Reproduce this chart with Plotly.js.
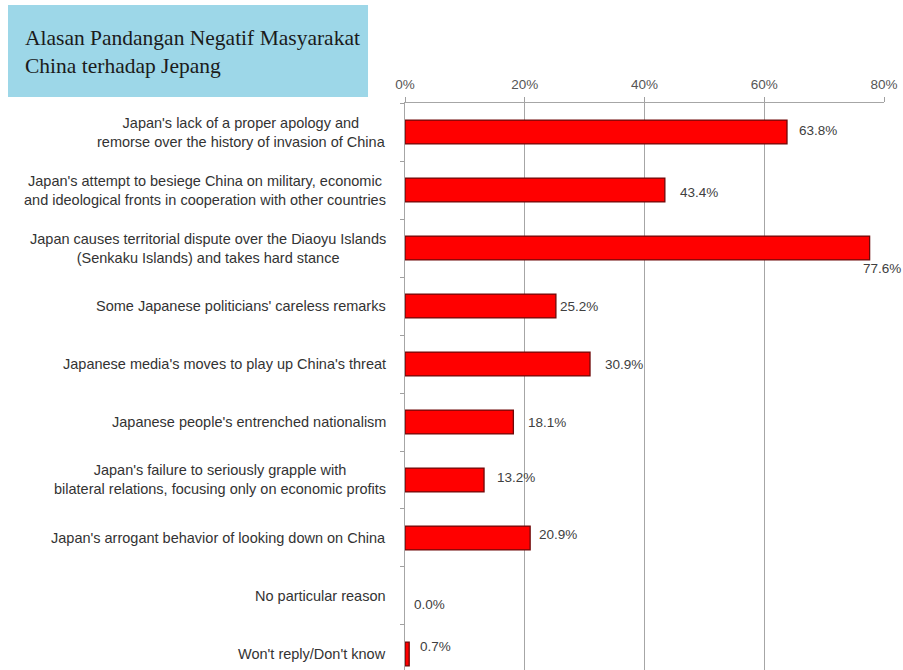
<!DOCTYPE html>
<html>
<head>
<meta charset="utf-8">
<script src="https://cdn.plot.ly/plotly-3.0.1.min.js"></script>
<style>
  html, body { margin: 0; padding: 0; background: #ffffff; }
  #chart { width: 903px; height: 670px; }
</style>
</head>
<body>
<div id="chart"></div>
<script>
// Reasons for negative views, listed top to bottom
const categories = [
  "Japan's lack of a proper apology and<br>remorse over the history of invasion of China",
  "Japan's attempt to besiege China on military, economic<br>and ideological fronts in cooperation with other countries",
  "Japan causes territorial dispute over the Diaoyu Islands<br>(Senkaku Islands) and takes hard stance",
  "Some Japanese politicians' careless remarks",
  "Japanese media's moves to play up China's threat",
  "Japanese people's entrenched nationalism",
  "Japan's failure to seriously grapple with<br>bilateral relations, focusing only on economic profits",
  "Japan's arrogant behavior of looking down on China",
  "No particular reason",
  "Won't reply/Don't know"
];

// Share of respondents (%)
const values = [63.8, 43.4, 77.6, 25.2, 30.9, 18.1, 13.2, 20.9, 0.0, 0.7];

// Axis ticks
const tickValues = [0, 20, 40, 60, 80];
const tickLabels = ["0%", "20%", "40%", "60%", "80%"];

const chartTitle = "Alasan Pandangan Negatif Masyarakat<br>China terhadap Jepang";

// Pixel nudges for the value labels (x right, y up)
const labelDx = [10, 13, -9, 2, 13, 13, 11, 7, 7, 9];
const labelDy = [2, -2, -20, 0, 0, 0, 2, 3, -9, 7];

const trace = {
  type: "bar",
  orientation: "h",
  x: values,
  y: categories,
  width: 0.41,
  marker: {
    color: "#ff0000",
    // an empty bar gets no outline
    line: { color: "#6e0808", width: values.map(v => (v > 0 ? 1.3 : 0)) }
  },
  hoverinfo: "skip"
};

const labelFont = { family: "Liberation Sans, Arial, sans-serif", size: 14.5, color: "#333333" };
const valueFont = { family: "Liberation Sans, Arial, sans-serif", size: 13.5, color: "#404040" };

const annotations = [];

// Category labels, centred line by line, right edge next to the axis
categories.forEach((c) => {
  annotations.push({
    xref: "paper", yref: "y",
    x: -0.0355, y: c,
    xanchor: "right", yanchor: "middle",
    align: "center",
    text: c,
    showarrow: false,
    font: labelFont
  });
});

// Value labels
values.forEach((v, i) => {
  annotations.push({
    xref: "x", yref: "y",
    x: v, y: categories[i],
    xanchor: "left", yanchor: "middle",
    xshift: labelDx[i], yshift: labelDy[i],
    text: v.toFixed(1) + "%",
    showarrow: false,
    font: valueFont
  });
});

// Title text inside the blue box
annotations.push({
  xref: "paper", yref: "paper",
  x: -0.7975, y: 1.0900,
  xanchor: "left", yanchor: "middle",
  align: "left",
  text: chartTitle,
  showarrow: false,
  font: { family: "Liberation Serif, Times New Roman, serif", size: 21.5, color: "#1b1b1b" }
});

const layout = {
  width: 903,
  height: 670,
  margin: { l: 405, r: 19, t: 103, b: 0, pad: 0 },
  paper_bgcolor: "#ffffff",
  plot_bgcolor: "#ffffff",
  showlegend: false,
  font: { family: "Liberation Sans, Arial, sans-serif", size: 13, color: "#555555" },
  xaxis: {
    side: "top",
    range: [0, 80],
    tickvals: tickValues,
    ticktext: tickLabels,
    ticks: "outside",
    ticklen: 5,
    tickcolor: "#a0a0a0",
    ticklabelstandoff: 3,
    showline: true,
    linecolor: "#a6a6a6",
    linewidth: 1,
    showgrid: true,
    gridcolor: "#a6a6a6",
    gridwidth: 1,
    zeroline: false,
    tickfont: { family: "Liberation Sans, Arial, sans-serif", size: 13.5, color: "#555555" },
    fixedrange: true
  },
  yaxis: {
    type: "category",
    range: [9.276, -0.5],
    showticklabels: false,
    tickson: "boundaries",
    ticks: "outside",
    ticklen: 4,
    tickcolor: "#a0a0a0",
    showline: true,
    linecolor: "#a6a6a6",
    showgrid: false,
    zeroline: false,
    fixedrange: true
  },
  shapes: [
    {
      type: "rect",
      xref: "paper", yref: "paper",
      x0: -0.8288, x1: -0.0772,
      y0: 1.0106, y1: 1.1728,
      fillcolor: "#9dd7e8",
      line: { width: 0 },
      layer: "below"
    }
  ],
  annotations: annotations
};

Plotly.newPlot("chart", [trace], layout, { displayModeBar: false, staticPlot: true });
</script>
</body>
</html>
